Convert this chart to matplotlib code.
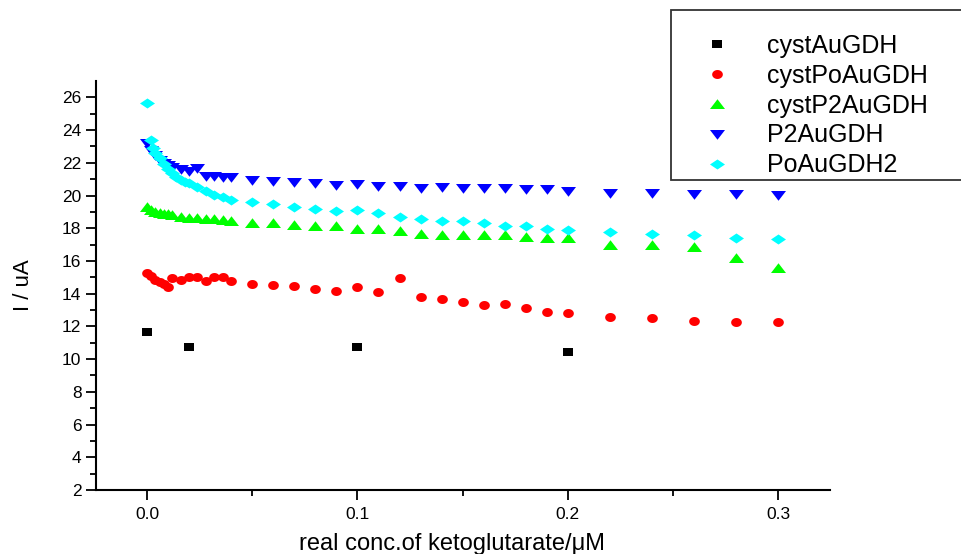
import numpy as np
import matplotlib
matplotlib.use("Agg")
import matplotlib.pyplot as plt

plt.rcParams['font.family'] = ['Liberation Sans', 'DejaVu Sans']

# cystAuGDH
x_cyst_au = [0.0, 0.02, 0.1, 0.2]
y_cyst_au = [11.67, 10.76, 10.76, 10.45]

# cystPoAuGDH
x_cyst_po = [0.0, 0.002, 0.004, 0.006, 0.008, 0.01, 0.012, 0.016, 0.02, 0.024,
             0.028, 0.032, 0.036, 0.04, 0.05, 0.06, 0.07, 0.08, 0.09, 0.10,
             0.11, 0.12, 0.13, 0.14, 0.15, 0.16, 0.17, 0.18, 0.19, 0.20,
             0.22, 0.24, 0.26, 0.28, 0.30]
y_cyst_po = [15.29, 15.1, 14.85, 14.7, 14.6, 14.4, 14.95, 14.85, 15.0, 15.0,
             14.8, 15.0, 15.0, 14.80, 14.62, 14.54, 14.48, 14.31, 14.19, 14.40,
             14.11, 14.94, 13.82, 13.66, 13.52, 13.32, 13.34, 13.11, 12.87, 12.81,
             12.59, 12.54, 12.36, 12.28, 12.28]

# cystP2AuGDH
x_cyst_p2 = [0.0, 0.002, 0.004, 0.006, 0.008, 0.01, 0.012, 0.016, 0.02, 0.024,
             0.028, 0.032, 0.036, 0.04, 0.05, 0.06, 0.07, 0.08, 0.09, 0.10,
             0.11, 0.12, 0.13, 0.14, 0.15, 0.16, 0.17, 0.18, 0.19, 0.20,
             0.22, 0.24, 0.26, 0.28, 0.30]
y_cyst_p2 = [19.3, 19.1, 19.0, 18.95, 18.9, 18.85, 18.8, 18.66, 18.6, 18.6,
             18.56, 18.56, 18.5, 18.42, 18.34, 18.32, 18.18, 18.13, 18.12, 17.93,
             17.93, 17.85, 17.65, 17.60, 17.59, 17.57, 17.57, 17.45, 17.42, 17.42,
             16.98, 16.96, 16.87, 16.16, 15.55]

# P2AuGDH
x_p2 = [0.0, 0.002, 0.004, 0.006, 0.008, 0.01, 0.012, 0.016, 0.02, 0.024,
        0.028, 0.032, 0.036, 0.04, 0.05, 0.06, 0.07, 0.08, 0.09, 0.10,
        0.11, 0.12, 0.13, 0.14, 0.15, 0.16, 0.17, 0.18, 0.19, 0.20,
        0.22, 0.24, 0.26, 0.28, 0.30]
y_p2 = [23.2, 22.8, 22.45, 22.2, 22.0, 21.85, 21.75, 21.6, 21.5, 21.7,
        21.2, 21.2, 21.15, 21.14, 20.94, 20.88, 20.82, 20.78, 20.67, 20.70,
        20.61, 20.57, 20.45, 20.53, 20.47, 20.45, 20.45, 20.37, 20.37, 20.29,
        20.17, 20.13, 20.11, 20.09, 20.02]

# PoAuGDH2
x_po2 = [0.0, 0.002, 0.003, 0.004, 0.006, 0.008, 0.01, 0.012, 0.014, 0.016,
         0.018, 0.02, 0.024, 0.028, 0.032, 0.036, 0.04, 0.05, 0.06, 0.07,
         0.08, 0.09, 0.10, 0.11, 0.12, 0.13, 0.14, 0.15, 0.16, 0.17,
         0.18, 0.19, 0.20, 0.22, 0.24, 0.26, 0.28, 0.30]
y_po2 = [25.65, 23.4, 22.9, 22.6, 22.3, 21.95, 21.65, 21.35, 21.15, 20.95,
         20.85, 20.75, 20.5, 20.25, 20.05, 19.93, 19.72, 19.58, 19.48, 19.31,
         19.19, 19.05, 19.09, 18.91, 18.66, 18.58, 18.46, 18.46, 18.34, 18.15,
         18.12, 17.97, 17.89, 17.75, 17.67, 17.57, 17.38, 17.34]

labels = ['cystAuGDH', 'cystPoAuGDH', 'cystP2AuGDH', 'P2AuGDH', 'PoAuGDH2']
colors = ['#000000', '#FF0000', '#00FF00', '#0000FF', '#00FFFF']

# slightly wide marker shapes
sq = [(-1, -0.77), (1, -0.77), (1, 0.77), (-1, 0.77), (-1, -0.77)]
t = np.linspace(0, 2 * np.pi, 40)
circ = list(zip(np.cos(t), 0.84 * np.sin(t)))
tri_up = [(-1, -0.6), (1, -0.6), (0, 0.7), (-1, -0.6)]
tri_dn = [(-1, 0.6), (1, 0.6), (0, -0.7), (-1, 0.6)]
diam = [(-1, 0), (0, 0.67), (1, 0), (0, -0.67), (-1, 0)]
markers = [sq, circ, tri_up, tri_dn, diam]
sizes = [7.2, 7.7, 10.8, 10.8, 10.8]

series = [(x_cyst_au, y_cyst_au), (x_cyst_po, y_cyst_po), (x_cyst_p2, y_cyst_p2),
          (x_p2, y_p2), (x_po2, y_po2)]

fig = plt.figure(figsize=(9.61, 5.54), dpi=100)
ax = fig.add_axes([96 / 961, 1 - 490 / 554, (830 - 96) / 961, (490 - 81) / 554])

handles = []
for (xs, ys), lab, c, m, s in zip(series, labels, colors, markers, sizes):
    h, = ax.plot(xs, ys, linestyle='none', marker=m, markersize=s,
                 color=c, markeredgewidth=0, label=lab)
    handles.append(h)

ax.set_xlim(-0.0242, 0.3245)
ax.set_ylim(2, 27)
ax.set_xticks([0.0, 0.1, 0.2, 0.3])
ax.set_xticklabels(['0.0', '0.1', '0.2', '0.3'])
ax.set_xticks([0.05, 0.15, 0.25], minor=True)
ax.set_yticks(np.arange(2, 27, 2))
ax.set_yticks(np.arange(3, 27, 2), minor=True)

for side in ['top', 'right']:
    ax.spines[side].set_visible(False)
for side in ['left', 'bottom']:
    ax.spines[side].set_linewidth(1.5)

ax.tick_params(which='major', direction='out', length=7, width=1.3,
               labelsize=12.5, pad=3.5)
ax.tick_params(which='minor', direction='out', length=4, width=1.3)
ax.tick_params(axis='x', which='major', pad=5)

ax.set_xlabel('real conc.of ketoglutarate/μM', fontsize=17, labelpad=8)
ax.set_ylabel('I / uA', fontsize=16, labelpad=20)
ax.xaxis.set_label_coords(0.485, -0.106)

leg = fig.legend(handles=handles, labels=labels, loc='upper left',
                 bbox_to_anchor=(671 / 961, 1 - 10 / 554 - 0.2,
                                 (995 - 671) / 961, 0.2),
                 mode='expand', fontsize=18,
                 frameon=True, fancybox=False, handlelength=3.46,
                 handletextpad=0.27, borderpad=0.1, labelspacing=0.24,
                 title=' ', title_fontsize=11.5, borderaxespad=0)
leg.get_frame().set_edgecolor('black')
leg.get_frame().set_linewidth(1.3)

fig.savefig('out.png', dpi=100)
